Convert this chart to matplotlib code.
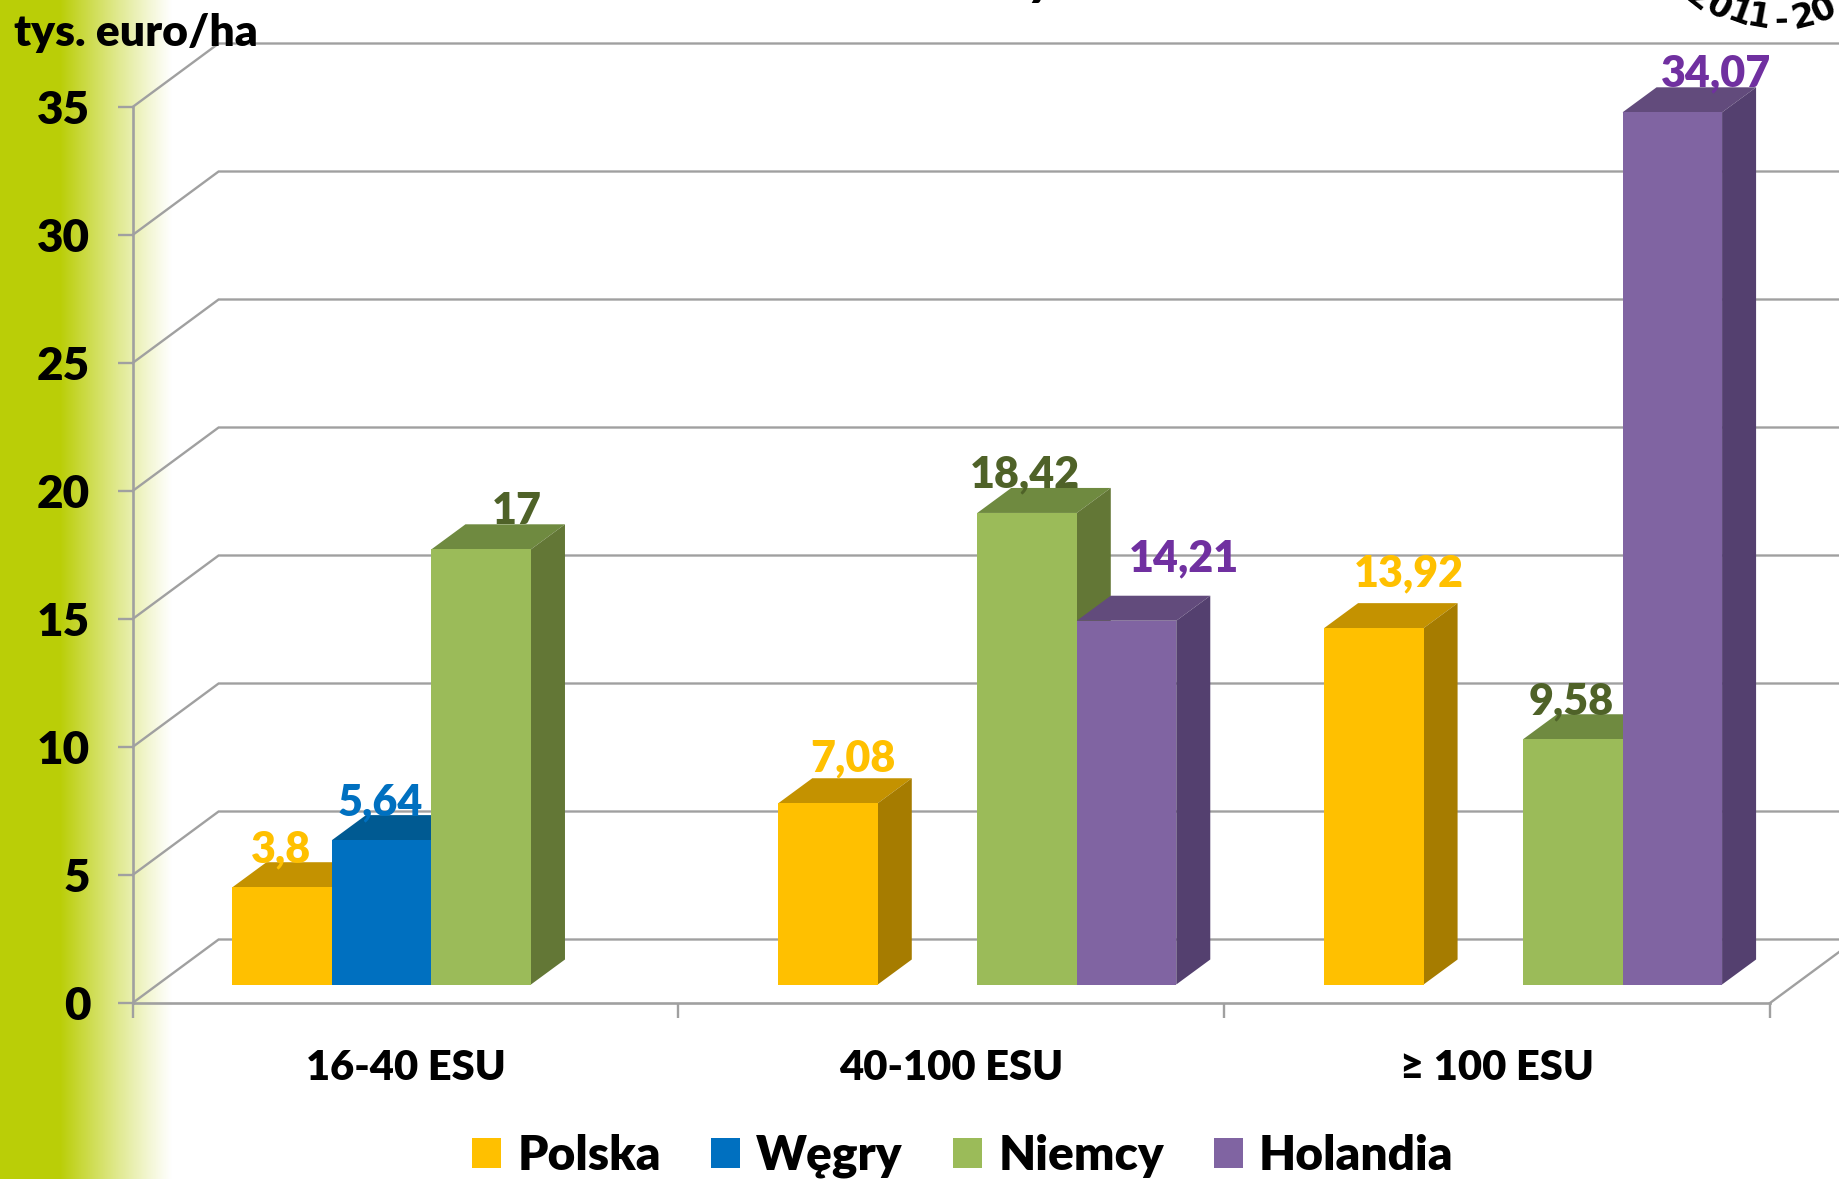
import matplotlib
matplotlib.use("Agg")
import matplotlib.pyplot as plt
from matplotlib.patches import Patch, Polygon
import numpy as np

plt.rcParams['font.family'] = ['Lato', 'DejaVu Sans']
plt.rcParams['font.weight'] = 800

W, H = 1840, 1179

# data
categories = ["16-40 ESU", "40-100 ESU", "≥ 100 ESU"]
countries = ["Polska", "Węgry", "Niemcy", "Holandia"]
polska = [3.8, 7.08, 13.92]
wegry = [5.64, None, None]
niemcy = [17, 18.42, 9.58]
holandia = [None, 14.21, 34.07]
polska_txt = ["3,8", "7,08", "13,92"]
wegry_txt = ["5,64", None, None]
niemcy_txt = ["17", "18,42", "9,58"]
holandia_txt = [None, "14,21", "34,07"]
yticks = [0, 5, 10, 15, 20, 25, 30, 35]

# front, top, side, label colour
colors = [
    ("#FFC000", "#C49200", "#A67C00", "#FFC000"),
    ("#0070C0", "#005A92", "#004F80", "#0070C0"),
    ("#9BBB59", "#6F8A40", "#637736", "#4F6228"),
    ("#8064A2", "#624B7C", "#54406F", "#7030A0"),
]
GRID = "#A0A0A0"

# label shift from bar centre / bar top, in pixels
label_shift = {
    (0, 0): (-1, 38), (1, 0): (-1, 38), (2, 0): (36, 38),
    (0, 1): (25, 45), (2, 1): (-2, 39), (3, 1): (57, 62),
    (0, 2): (35, 55), (2, 2): (-2, 38), (3, 2): (44, 39),
}

fig = plt.figure(figsize=(W / 100, H / 100), dpi=100, facecolor="white")

# green fade on the left
bg = fig.add_axes([0, 0, 1, 1], zorder=0)
bg.axis("off")
fade = np.ones((1, W, 4))
fade[..., :3] = matplotlib.colors.to_rgb("#BACE07")
fade[..., 3] = np.clip((172 - np.arange(W)) / (172 - 60), 0, 1) ** 1.1
bg.imshow(fade, extent=(0, 1, 0, 1), aspect="auto")

left, right, top, bottom = 132.6, 1770, 107, 1003
ax = fig.add_axes([left / W, 1 - bottom / H, (right - left) / W, (bottom - top) / H], zorder=1)
ax.patch.set_alpha(0)
ax.set_xlim(0, 3)
ax.set_ylim(0, 35)

px_x = (right - left) / 3
px_y = (bottom - top) / 35

wall_dx, wall_dy = 86 / px_x, 63.5 / px_y
bar_dx, bar_dy = 34 / px_x, 25 / px_y
bar_w = 99.5 / px_x
bar_base = 18.5 / px_y
first = 0.183

# walls
for v in yticks:
    ax.plot([0, wall_dx, 3 + wall_dx], [v, v + wall_dy, v + wall_dy], color=GRID, lw=1.7,
            clip_on=False, zorder=1, solid_joinstyle="miter")
ax.plot([3, 3 + wall_dx], [0, wall_dy], color=GRID, lw=1.7, clip_on=False, zorder=1)

for s in ("top", "right"):
    ax.spines[s].set_visible(False)
for s in ("left", "bottom"):
    ax.spines[s].set_color(GRID)
    ax.spines[s].set_linewidth(1.9)
    ax.spines[s].set_zorder(2)

ax.set_yticks(yticks)
ax.tick_params(axis="y", length=10.5, width=1.7, color=GRID, labelsize=33, pad=20)
ax.set_xticks([0, 1, 2, 3])
ax.set_xticklabels([])
ax.set_xticks([0.5, 1.5, 2.5], categories, minor=True)
ax.tick_params(axis="x", which="major", length=10.5, width=1.7, color=GRID)
ax.tick_params(axis="x", which="minor", length=0, labelsize=30, pad=33)

# bars, left to right so that each one covers the side of the last
series = [polska, wegry, niemcy, holandia]
series_txt = [polska_txt, wegry_txt, niemcy_txt, holandia_txt]
for c in range(3):
    for s in range(4):
        val = series[s][c]
        if val is None:
            continue
        x0 = c + first + s * bar_w
        x1 = x0 + bar_w
        y0 = bar_base
        y1 = bar_base + val
        front, upper, side, _ = colors[s]
        z = 3 + c * 4 + s
        ax.add_patch(Polygon([(x0, y1), (x0 + bar_dx, y1 + bar_dy), (x1 + bar_dx, y1 + bar_dy), (x1, y1)],
                             fc=upper, ec="none", clip_on=False, zorder=z))
        ax.add_patch(Polygon([(x1, y0), (x1 + bar_dx, y0 + bar_dy), (x1 + bar_dx, y1 + bar_dy), (x1, y1)],
                             fc=side, ec="none", clip_on=False, zorder=z))
        ax.add_patch(Polygon([(x0, y0), (x1, y0), (x1, y1), (x0, y1)],
                             fc=front, ec="none", clip_on=False, zorder=z))

for c in range(3):
    for s in range(4):
        val = series[s][c]
        if val is None:
            continue
        sx, sy = label_shift[(s, c)]
        ax.annotate(series_txt[s][c], (c + first + (s + 0.5) * bar_w, bar_base + val),
                    xytext=(sx * 0.72, sy * 0.72), textcoords="offset points",
                    ha="center", va="center", fontsize=31, color=colors[s][3],
                    annotation_clip=False, zorder=40)

# axis unit
fig.text(14 / W, 1 - 33 / H, "tys. euro/ha", fontsize=32, color="black", va="center", ha="left", zorder=5)

# legend
handles = [Patch(fc=colors[i][0], ec="none", label=countries[i]) for i in range(4)]
fig.legend(handles=handles, loc="center", bbox_to_anchor=(963 / W, 1 - 1156 / H), ncol=4, frameon=False,
           fontsize=34.5, handlelength=0.61, handleheight=0.61, handletextpad=0.33, columnspacing=1.05,
           borderpad=0)

# pieces of the cut off title
fig.text(1042 / W, 1 + 5 / H, "y", fontsize=36, style="italic", color="black", ha="center", va="baseline")
arc_chars = ["2", "0", "1", "1", "-", "2", "0"]
arc_x = [1698, 1718, 1739, 1758, 1781, 1803, 1824]
arc_y = [-1, 8, 14, 18, 20, 17, 10]
arc_rot = [-38, -30, -20, -10, 2, 14, 26]
for ch, xp, yp, r in zip(arc_chars, arc_x, arc_y, arc_rot):
    fig.text(xp / W, 1 - yp / H, ch, fontsize=24, family="DejaVu Sans", weight="bold", color="black",
             rotation=r, ha="center", va="center", rotation_mode="anchor")

fig.savefig("out.png", dpi=100)
